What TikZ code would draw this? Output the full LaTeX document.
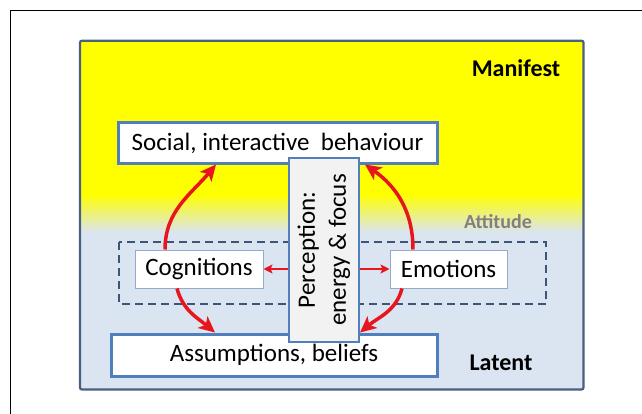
\documentclass[tikz,border=0pt]{standalone}
\usepackage{fontspec}
\setmainfont{Carlito}
\usepackage{tikz}
\usetikzlibrary{arrows.meta,calc}

\definecolor{manifestyellow}{HTML}{FFFF00}
\definecolor{latentblue}{HTML}{DBE4F1}
\definecolor{frameblue}{HTML}{4A6080}
\definecolor{boxblue}{HTML}{4F7FBC}
\definecolor{thinblue}{HTML}{93AACB}
\definecolor{dashblue}{HTML}{3D5677}
\definecolor{arrowred}{HTML}{E8151C}
\definecolor{percepgray}{HTML}{F2F2F2}
\definecolor{attitudegray}{HTML}{808080}

\begin{document}
\begin{tikzpicture}[x=1pt,y=1pt,
	txt/.style={font=\fontsize{25}{31}\selectfont},
	bigbox/.style={draw=boxblue,line width=3pt,fill=white,inner sep=0pt,txt},
	smallbox/.style={draw=thinblue,line width=1pt,fill=white,inner sep=0pt,txt},
	levellabel/.style={font=\fontsize{24}{28}\selectfont\bfseries},
	cyclearrow/.style={draw=arrowred,line width=3.5pt,-{Stealth[length=16pt,width=15pt,inset=4pt]}},
	shortarrow/.style={draw=arrowred,line width=2.5pt,-{Stealth[length=9pt,width=9pt,inset=2pt]}}]
		\useasboundingbox (0,0) rectangle (642,413);
		
		%outer frame
		\draw[line width=1pt] (10.7,-20) -- (10.7,402) -- (700,402);
		
		%manifest / latent background
		\fill[latentblue] (80,23.5) rectangle (583.5,181);
		\shade[bottom color=latentblue,top color=manifestyellow] (80,180.5) rectangle (583.5,219);
		\fill[manifestyellow] (80,218.5) rectangle (583.5,372.3);
		\draw[frameblue,line width=2.2pt,rounded corners=2pt] (80,23.5) rectangle (583.5,372.3);
		
		\node[levellabel] (manifest) at (516,345) {Manifest};
		\node[levellabel] (latent) at (501,50) {Latent};
		\node[font=\fontsize{20}{24}\selectfont\bfseries,text=attitudegray] (attitude) at (498,191.5) {Attitude};
		
		%attitude
		\draw[dashblue,line width=2pt,dash pattern=on 8pt off 5pt] (119,171) rectangle (546,109);
		
		%boxes
		\node[bigbox,minimum width=319pt,minimum height=40pt] (social) at (277.5,270) {Social, interactive\ \ behaviour};
		\node[bigbox,minimum width=326pt,minimum height=42pt] (assump) at (274,58) {Assumptions, beliefs};
		\node[smallbox,minimum width=128pt,minimum height=38pt] (cogn) at (199,144) {Cognitions};
		\node[smallbox,minimum width=117pt,minimum height=38pt] (emot) at (448.5,144) {Emotions};
		\node[draw=boxblue,line width=2.5pt,fill=percepgray,minimum width=70pt,minimum height=184pt] (percep) at (324,163) {};
		\node[txt,rotate=90,align=center] (perceptext) at (percep.center) {Perception:\\energy \& focus};
		
		%arrows:
		\draw[cyclearrow] ([xshift=-34pt]cogn.north) to[out=90,in=-130] ([xshift=-61.5pt]social.south);
		\draw[cyclearrow] ([xshift=-35.5pt]emot.north) to[out=90,in=-35] ([xshift=87.5pt]social.south);
		\draw[cyclearrow] ([xshift=-22pt]cogn.south) to[out=-75,in=140] ([xshift=-59pt]assump.north);
		\draw[cyclearrow] ([xshift=-46.5pt]emot.south) to[out=-105,in=40] ([xshift=86pt]assump.north);
		\foreach \dest/\side in {cogn/west,emot/east}{
			\draw[shortarrow] (percep.\side |- \dest.center) -- (\dest);
		}
		
\end{tikzpicture}
\end{document}
